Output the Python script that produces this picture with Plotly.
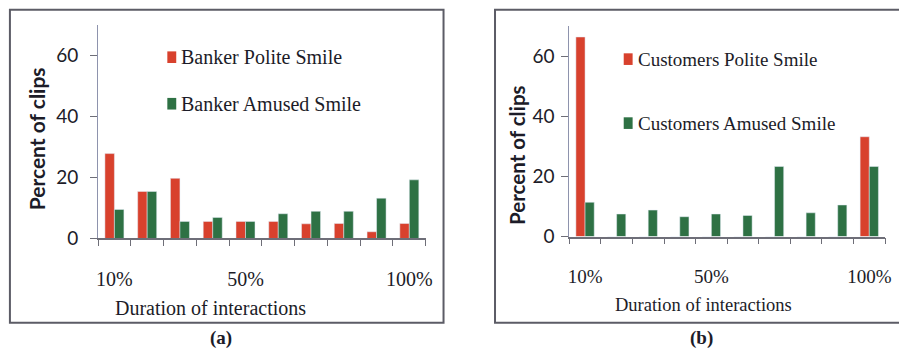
import plotly.graph_objects as go

# Duration of interaction split into ten deciles
deciles = list(range(1, 11))
decile_bounds = [i + 0.5 for i in range(0, 11)]
tick_positions = [1, 5, 10]
tick_labels = ["10%", "50%", "100%"]
y_ticks = [0, 20, 40, 60]

# Percent of clips per decile
banker_polite = [27.8, 15.4, 19.7, 5.6, 5.6, 5.6, 4.8, 4.9, 2.2, 4.9]
banker_amused = [9.5, 15.4, 5.6, 6.9, 5.6, 8.1, 8.9, 8.9, 13.2, 19.2]
customer_polite = [66.4, 0, 0, 0, 0, 0, 0, 0, 0, 33.2]
customer_amused = [11.4, 7.5, 8.8, 6.6, 7.5, 7.0, 23.3, 7.9, 10.5, 23.3]

names_a = ["Banker Polite Smile", "Banker Amused Smile"]
names_b = ["Customers Polite Smile", "Customers Amused Smile"]

RED = "#d8412d"
GREEN = "#2e7144"
TEXT = "#1c1c28"
SERIF = "Liberation Serif"
SANS = "Lato"

W, H = 899, 360


def px(x):
    return x / W


def py(y):
    return 1 - y / H


fig = go.Figure()
fig.add_bar(x=deciles, y=banker_polite, name=names_a[0], marker_color=RED,
            xaxis="x", yaxis="y", showlegend=False)
fig.add_bar(x=deciles, y=banker_amused, name=names_a[1], marker_color=GREEN,
            xaxis="x", yaxis="y", showlegend=False)
fig.add_bar(x=deciles, y=customer_polite, name=names_b[0], marker_color=RED,
            xaxis="x2", yaxis="y2", showlegend=False)
fig.add_bar(x=deciles, y=customer_amused, name=names_b[1], marker_color=GREEN,
            xaxis="x2", yaxis="y2", showlegend=False)


def x_axis(domain, anchor, size):
    return dict(
        domain=domain, anchor=anchor, range=[0.5, 10.5],
        tickmode="array", tickvals=tick_positions, ticktext=tick_labels,
        ticks="", showgrid=False, zeroline=False,
        showline=True, linecolor="#6e6e78", linewidth=1.5,
        tickfont=dict(family=SERIF, size=size, color=TEXT),
        ticklabelstandoff=22,
        minor=dict(tickmode="array", tickvals=decile_bounds, ticks="outside",
                   ticklen=6, tickcolor="#6e6e78", tickwidth=1, showgrid=False),
    )


def y_axis(domain, anchor, standoff):
    return dict(
        domain=domain, anchor=anchor, range=[0, 70],
        tickmode="array", tickvals=y_ticks,
        ticks="outside", ticklen=7, tickcolor="#6e6e78",
        showgrid=False, zeroline=False,
        showline=True, linecolor="#8e93ad", linewidth=1,
        tickfont=dict(family=SANS, size=19, color=TEXT),
        ticklabelstandoff=standoff,
    )


fig.update_layout(
    width=W, height=H,
    margin=dict(l=0, r=0, t=0, b=0),
    paper_bgcolor="white", plot_bgcolor="white",
    barmode="group", bargap=0.42, bargroupgap=0,
    xaxis=x_axis([px(97), px(428)], "y", 20),
    yaxis=y_axis([py(246), py(25.5)], "x", 8),
    xaxis2=x_axis([px(573), px(892)], "y2", 19),
    yaxis2=y_axis([py(244), py(27)], "x2", 3),
)

shapes = []
# panel frames
shapes.append(dict(type="rect", xref="paper", yref="paper",
                   x0=px(8), x1=px(446), y0=py(333), y1=py(10),
                   line=dict(color="#5c5c66", width=2)))
shapes.append(dict(type="rect", xref="paper", yref="paper",
                   x0=px(498), x1=px(910), y0=py(333), y1=py(10),
                   line=dict(color="#5c5c66", width=2)))

annotations = []

# legend swatches and labels
legend_rows = [
    (names_a[0], RED, 167, 59, 179, 20),
    (names_a[1], GREEN, 167, 107, 179, 20),
    (names_b[0], RED, 628, 61, 640, 19),
    (names_b[1], GREEN, 628, 127, 640, 19),
]
for label, color, sx, cy, tx, fs in legend_rows:
    shapes.append(dict(type="rect", xref="paper", yref="paper",
                       x0=px(sx), x1=px(sx + 9), y0=py(cy + 6), y1=py(cy - 6),
                       fillcolor=color, line=dict(width=0)))
    annotations.append(dict(x=px(tx), y=py(cy), xref="paper", yref="paper",
                            text=label, showarrow=False, xanchor="left",
                            yanchor="middle",
                            font=dict(family=SERIF, size=fs, color=TEXT)))

# axis titles
for x, y, fs in [(35, 143, 21), (520, 160, 20.5)]:
    annotations.append(dict(x=px(x), y=py(y), xref="paper", yref="paper",
                            text="<b>Percent of clips</b>", textangle=-90,
                            showarrow=False, xanchor="center", yanchor="middle",
                            font=dict(family=SANS, size=fs, color=TEXT)))
for x, y, fs in [(211, 318, 20), (709, 315, 18.5)]:
    annotations.append(dict(x=px(x), y=py(y), xref="paper", yref="paper",
                            text="Duration of interactions", showarrow=False,
                            xanchor="center", yanchor="middle",
                            font=dict(family=SERIF, size=fs, color=TEXT)))

# panel captions
for x, t in [(221, "(a)"), (707, "(b)")]:
    annotations.append(dict(x=px(x), y=py(349), xref="paper", yref="paper",
                            text="<b>" + t + "</b>", showarrow=False,
                            xanchor="center", yanchor="middle",
                            font=dict(family=SERIF, size=19, color=TEXT)))

fig.update_layout(shapes=shapes, annotations=annotations)
fig.write_html("out.html")
